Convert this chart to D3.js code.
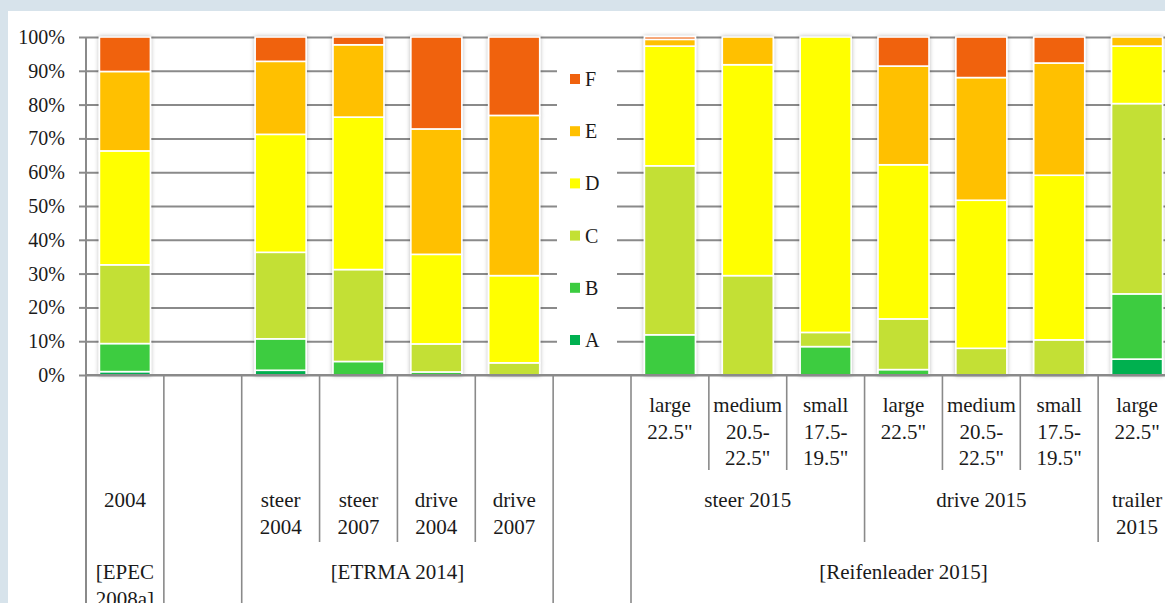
<!DOCTYPE html>
<html><head><meta charset="utf-8">
<script src="https://cdn.jsdelivr.net/npm/d3@7"></script>
<style>
html,body{margin:0;padding:0;background:#d7e3eb;}
svg{display:block;}
text{font-family:"Liberation Serif","Times New Roman",serif;fill:#1a1a1a;}
</style></head><body>
<svg id="chart" width="1165" height="603"></svg>
<script>
// ---- data ----
const categories = ["2004","","steer 2004","steer 2007","drive 2004","drive 2007","",
  "steer large","steer medium","steer small","drive large","drive medium","drive small","trailer large"];
const seriesKeys = ["A","B","C","D","E","F"];
const seriesColors = ["#00b050","#3ccc40","#c3e034","#ffff00","#ffc000","#f0620e"];
const A = [1.0, 0, 1.4, 0,    0,    0,    0, 0,    0,    0,    0,    0,    0,    4.7];
const B = [8.3, 0, 9.3, 4.0,  0.9,  0,    0, 11.9, 0,    8.4,  1.6,  0,    0,    19.3];
const C = [23.3,0, 25.6,27.2, 8.3,  3.6,  0, 50.0, 29.4, 4.2,  15.0, 7.9,  10.4, 56.3];
const D = [33.7,0, 34.9,45.1, 26.5, 25.8, 0, 35.4, 62.4, 87.4, 45.6, 43.8, 48.7, 17.0];
const E = [23.5,0, 21.6,21.4, 37.1, 47.4, 0, 2.0,  8.2,  0,    29.2, 36.3, 33.2, 2.7];
const F = [10.2,0, 7.2, 2.3,  27.2, 23.2, 0, 0.8,  0,    0,    8.6,  12.0, 7.7,  0];
const yTicks = [0,10,20,30,40,50,60,70,80,90,100];
// multi-level category labels
const level1Labels = [null,null,null,null,null,null,null,
  ["large","22.5\""],["medium","20.5-","22.5\""],["small","17.5-","19.5\""],
  ["large","22.5\""],["medium","20.5-","22.5\""],["small","17.5-","19.5\""],["large","22.5\""]];
const level2Groups = [
  {lines:["2004"], from:0, to:0},
  {lines:[], from:1, to:1},
  {lines:["steer","2004"], from:2, to:2},
  {lines:["steer","2007"], from:3, to:3},
  {lines:["drive","2004"], from:4, to:4},
  {lines:["drive","2007"], from:5, to:5},
  {lines:[], from:6, to:6},
  {lines:["steer 2015"], from:7, to:9},
  {lines:["drive 2015"], from:10, to:12},
  {lines:["trailer","2015"], from:13, to:13}
];
const level3Groups = [
  {lines:["[EPEC","2008a]"], from:0, to:0},
  {lines:[], from:1, to:1},
  {lines:["[ETRMA 2014]"], from:2, to:5},
  {lines:[], from:6, to:6},
  {lines:["[Reifenleader 2015]"], from:7, to:13}
];

// ---- layout ----
const svg = d3.select("#chart");
const X0 = 86, X1 = 1176, Y0 = 375, Y1 = 37;
const L1_BOTTOM = 470, L2_BOTTOM = 542, L3_BOTTOM = 603;
const gridColor = "#8a8a8a";

const defs = svg.append("defs");
const flt = defs.append("filter").attr("id","shadow").attr("x","-30%").attr("y","-10%").attr("width","160%").attr("height","120%");
flt.append("feDropShadow").attr("dx",0).attr("dy",0).attr("stdDeviation",2.2)
  .attr("flood-color","#000").attr("flood-opacity",0.28);

svg.append("rect").attr("x",8).attr("y",11).attr("width",1170).attr("height",600).attr("fill","#fff");

const idx = categories.map((d,i)=>i);
const xSlot = d3.scaleBand().domain(idx).range([X0,X1]);
const xBar = d3.scaleBand().domain(idx).range([X0,X1]).paddingInner(0.345).paddingOuter(0.1725);
const y = d3.scaleLinear().domain([0,100]).range([Y0,Y1]);
const color = d3.scaleOrdinal().domain(seriesKeys).range(seriesColors);

// gridlines
const grid = svg.append("g").attr("transform",`translate(${X0},0)`)
  .call(d3.axisRight(y).tickValues(yTicks).tickSize(1165-X0).tickFormat(""));
grid.select(".domain").remove();
grid.selectAll(".tick line").attr("stroke",gridColor).attr("stroke-width",2);

// y axis
const yAxis = svg.append("g").attr("transform",`translate(${X0},0)`)
  .call(d3.axisLeft(y).tickValues(yTicks).tickSize(7).tickPadding(14).tickFormat(d=>d+"%"));
yAxis.select(".domain").remove();
yAxis.selectAll(".tick line").attr("stroke",gridColor).attr("stroke-width",2);
yAxis.selectAll(".tick text").attr("font-size",20).attr("fill","#1a1a1a")
  .attr("font-family","'Liberation Serif',serif");

// legend background (interrupts gridlines)
svg.append("rect").attr("x",557).attr("y",53).attr("width",60).attr("height",309).attr("fill","#fff");

// bars
const table = idx.map(i=>({i, A:A[i], B:B[i], C:C[i], D:D[i], E:E[i], F:F[i]}));
const stacked = d3.stack().keys(seriesKeys)(table);
const barsG = svg.append("g");
idx.forEach(i=>{
  const segs = stacked.map(s=>({key:s.key, y0:s[i][0], y1:s[i][1]})).filter(d=>d.y1-d.y0>0);
  if(!segs.length) return;
  const g = barsG.append("g").attr("filter","url(#shadow)");
  g.selectAll("rect").data(segs).join("rect")
    .attr("x",xBar(i)).attr("width",xBar.bandwidth())
    .attr("y",d=>y(d.y1)).attr("height",d=>y(d.y0)-y(d.y1))
    .attr("fill",d=>color(d.key)).attr("stroke","#fff").attr("stroke-width",1.6);
});

// axis base line and vertical y line
svg.append("line").attr("x1",X0).attr("x2",1165).attr("y1",Y0).attr("y2",Y0)
  .attr("stroke",gridColor).attr("stroke-width",2);
svg.append("line").attr("x1",X0).attr("x2",X0).attr("y1",Y1).attr("y2",L3_BOTTOM)
  .attr("stroke",gridColor).attr("stroke-width",2);

// category separators
const sepG = svg.append("g").attr("stroke",gridColor).attr("stroke-width",1.6);
function sep(xv, bottom){ sepG.append("line").attr("x1",xv).attr("x2",xv).attr("y1",Y0).attr("y2",bottom); }
level3Groups.forEach(g=>{ sep(xSlot(g.to)+xSlot.step(), L3_BOTTOM); });
level2Groups.forEach(g=>{
  const end = g.to;
  const inL3 = level3Groups.find(l=>l.from<=g.from && l.to>=g.to);
  if(end < inL3.to) sep(xSlot(end)+xSlot.step(), L2_BOTTOM);
  for(let k=g.from;k<g.to;k++) sep(xSlot(k)+xSlot.step(), L1_BOTTOM);
});

// labels
const lab = svg.append("g").attr("font-size",21).attr("text-anchor","middle");
function drawLines(cx, top, lines){
  lines.forEach((t,j)=>{
    lab.append("text").attr("x",cx).attr("y",top + j*26.5).attr("dy","0.35em").text(t);
  });
}
level1Labels.forEach((lines,i)=>{ if(lines) drawLines(xSlot(i)+xSlot.step()/2, 405, lines); });
level2Groups.forEach(g=>{
  const cx = (xSlot(g.from) + xSlot(g.to)+xSlot.step())/2;
  drawLines(cx, 500, g.lines);
});
level3Groups.forEach(g=>{
  const cx = (xSlot(g.from) + xSlot(g.to)+xSlot.step())/2;
  drawLines(cx, 572, g.lines);
});

// legend
const legY = d3.scalePoint().domain(seriesKeys.slice().reverse()).range([79,340]);
const leg = svg.append("g");
seriesKeys.forEach(k=>{
  leg.append("rect").attr("x",570).attr("y",legY(k)-5).attr("width",10).attr("height",10).attr("fill",color(k));
  leg.append("text").attr("x",585).attr("y",legY(k)).attr("dy","0.35em").attr("font-size",20).text(k);
});
</script>
</body></html>
